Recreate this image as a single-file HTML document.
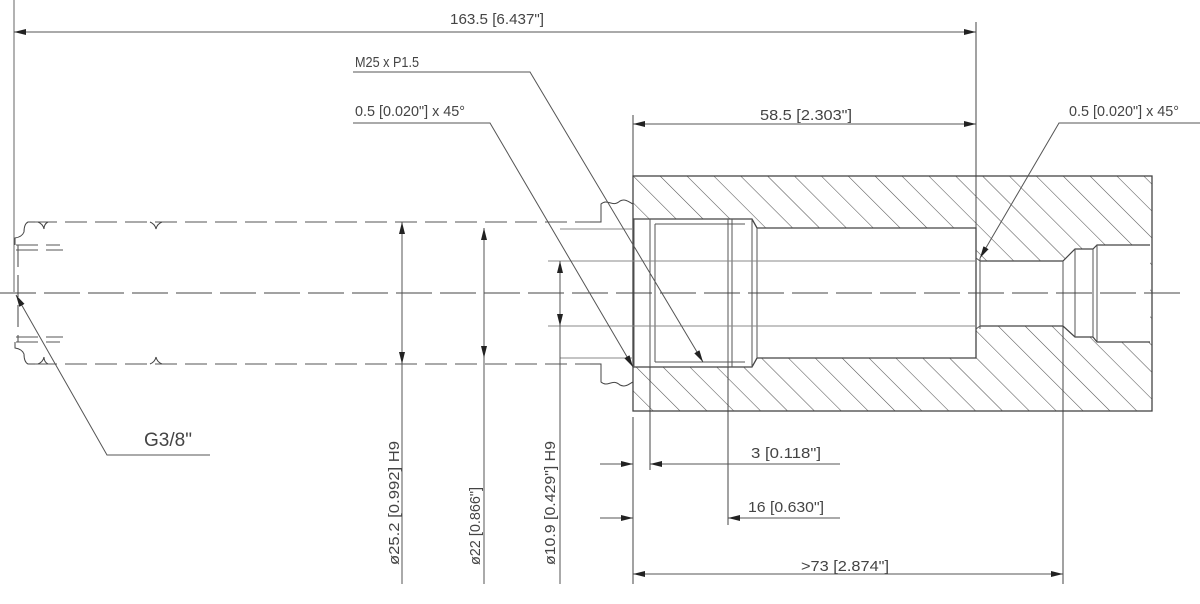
<!DOCTYPE html>
<html><head><meta charset="utf-8"><style>
html,body{margin:0;padding:0;background:#fff;}
svg{display:block;}
text{font-family:"Liberation Sans",sans-serif;fill:#444;font-size:15px;}
</style></head><body>
<svg width="1200" height="604" viewBox="0 0 1200 604" xmlns="http://www.w3.org/2000/svg">
<defs>
<pattern id="h" patternUnits="userSpaceOnUse" width="19" height="19" patternTransform="rotate(-45)">
<line x1="0" y1="0" x2="0" y2="19" stroke="#555" stroke-width="1.1"/>
</pattern>
<marker id="a" viewBox="0 0 12 6" refX="12" refY="3" markerWidth="12" markerHeight="6" markerUnits="userSpaceOnUse" orient="auto-start-reverse">
<path d="M0,0 L12,3 L0,6 Z" fill="#222"/>
</marker>
</defs>
<g fill="none" stroke="#555" stroke-width="1">
<rect x="633" y="176" width="519" height="235" fill="url(#h)" stroke="none"/>
<path d="M633,219 L752,219 L757,228 L976,228 L976,258 L980,261 L1063,261 L1075,249 L1093,249 L1097,245 L1150,245 L1150,342 L1097,342 L1093,337 L1075,337 L1063,326 L980,326 L976,329 L976,358 L757,358 L752,367 L633,367 Z" fill="#fff" stroke="none"/>
<rect x="633" y="176" width="519" height="235" stroke="#444" stroke-width="1.3"/>
<path d="M633,219 L752,219 L757,228 L976,228 L976,358 L757,358 L752,367 L633,367" stroke="#444" stroke-width="1.3"/>
<line x1="634" y1="219" x2="634" y2="367"/>
<line x1="650" y1="219" x2="650" y2="367"/>
<line x1="655" y1="224" x2="655" y2="362"/>
<line x1="655" y1="224" x2="745" y2="224"/>
<line x1="655" y1="362" x2="745" y2="362"/>
<line x1="728" y1="219" x2="728" y2="367"/>
<line x1="732" y1="219" x2="732" y2="367"/>
<line x1="752" y1="219" x2="752" y2="367"/>
<line x1="757" y1="228" x2="757" y2="358"/>
<path d="M980,261 L1063,261 L1075,249 L1093,249 L1097,245 L1150,245 M980,326 L1063,326 L1075,337 L1093,337 L1097,342 L1150,342" stroke="#444" stroke-width="1.2"/>
<line x1="980" y1="258" x2="980" y2="329"/>
<line x1="976" y1="258" x2="980" y2="261"/>
<line x1="976" y1="329" x2="980" y2="326"/>
<line x1="1063" y1="261" x2="1063" y2="326"/>
<line x1="1075" y1="249" x2="1075" y2="337"/>
<line x1="1093" y1="249" x2="1093" y2="337"/>
<line x1="1097" y1="245" x2="1097" y2="342"/>
<line x1="548" y1="261" x2="976" y2="261" stroke="#888"/>
<line x1="548" y1="326" x2="976" y2="326" stroke="#888"/>
<line x1="560" y1="229" x2="633" y2="229" stroke="#888"/>
<line x1="560" y1="358" x2="633" y2="358" stroke="#888"/>
<path d="M590,222 L601,222 L601,204 C608,198 612,208 620,201 C626,198 630,203 633,204" stroke="#444"/>
<path d="M590,364 L601,364 L601,382 C608,388 612,378 620,385 C626,388 630,383 633,382" stroke="#444"/>
<g stroke-dasharray="22,8" stroke="#555" stroke-width="1.1">
<line x1="35" y1="222" x2="590" y2="222"/>
<line x1="35" y1="364" x2="590" y2="364"/>
<line x1="18" y1="245" x2="18" y2="342"/>
<line x1="16" y1="245" x2="60" y2="245"/>
<line x1="16" y1="250" x2="63" y2="250"/>
<line x1="16" y1="337" x2="63" y2="337"/>
<line x1="16" y1="342" x2="60" y2="342"/>
</g>
<path d="M35,222 L28,222 Q24,224 24,232 Q22,237 15,238 L15,245 M35,364 L28,364 Q24,362 24,354 Q22,349 15,348 L15,342" stroke="#444"/>
<path d="M38,222 Q43,224 44,229 M48,222 Q44,224 44,229 M150,222 Q155,224 156,229 M162,222 Q157,224 156,229" stroke="#444"/>
<path d="M38,364 Q43,362 44,357 M48,364 Q44,362 44,357 M150,364 Q155,362 156,357 M162,364 Q157,362 156,357" stroke="#444"/>
<line x1="0" y1="293" x2="1180" y2="293" stroke-dasharray="36,8" stroke="#444"/>
<line x1="14" y1="0" x2="14" y2="292" stroke="#666"/>
<line x1="976" y1="22" x2="976" y2="228" stroke="#444"/>
<line x1="633" y1="115" x2="633" y2="176" stroke="#444"/>
<line x1="633" y1="417" x2="633" y2="584" stroke="#444"/>
<line x1="650" y1="367" x2="650" y2="470" stroke="#444"/>
<line x1="728" y1="367" x2="728" y2="525" stroke="#444"/>
<line x1="1063" y1="326" x2="1063" y2="584" stroke="#444"/>
<line x1="14" y1="32" x2="976" y2="32" marker-start="url(#a)" marker-end="url(#a)"/>
<line x1="633" y1="124" x2="976" y2="124" marker-start="url(#a)" marker-end="url(#a)"/>
<line x1="402" y1="222" x2="402" y2="364" marker-start="url(#a)" marker-end="url(#a)"/>
<line x1="402" y1="364" x2="402" y2="584"/>
<line x1="484" y1="228" x2="484" y2="358" marker-start="url(#a)" marker-end="url(#a)"/>
<line x1="484" y1="358" x2="484" y2="584"/>
<line x1="560" y1="261" x2="560" y2="326" marker-start="url(#a)" marker-end="url(#a)"/>
<line x1="560" y1="326" x2="560" y2="584"/>
<line x1="600" y1="464" x2="633" y2="464" marker-end="url(#a)"/>
<line x1="840" y1="464" x2="650" y2="464" marker-end="url(#a)"/>
<line x1="600" y1="518" x2="633" y2="518" marker-end="url(#a)"/>
<line x1="840" y1="518" x2="728" y2="518" marker-end="url(#a)"/>
<line x1="633" y1="574" x2="1063" y2="574" marker-start="url(#a)" marker-end="url(#a)"/>
<polyline points="353,72 530,72 703,362" marker-end="url(#a)"/>
<polyline points="353,123 490,123 633,367" marker-end="url(#a)"/>
<polyline points="1200,123 1059,123 980,258" marker-end="url(#a)"/>
<polyline points="210,455 107,455 16,295" marker-end="url(#a)"/>
</g>
<g>
<text x="450" y="24" textLength="94" lengthAdjust="spacingAndGlyphs">163.5 [6.437"]</text>
<text x="355" y="67" textLength="64" lengthAdjust="spacingAndGlyphs">M25 x P1.5</text>
<text x="355" y="116" textLength="110" lengthAdjust="spacingAndGlyphs">0.5 [0.020"] x 45°</text>
<text x="1069" y="116" textLength="110" lengthAdjust="spacingAndGlyphs">0.5 [0.020"] x 45°</text>
<text x="760" y="120" textLength="92" lengthAdjust="spacingAndGlyphs">58.5 [2.303"]</text>
<text x="144" y="446" style="font-size:19px" textLength="48" lengthAdjust="spacingAndGlyphs">G3/8"</text>
<text x="751" y="458" textLength="70" lengthAdjust="spacingAndGlyphs">3 [0.118"]</text>
<text x="748" y="512" textLength="76" lengthAdjust="spacingAndGlyphs">16 [0.630"]</text>
<text x="801" y="571" textLength="88" lengthAdjust="spacingAndGlyphs">&gt;73 [2.874"]</text>
<text transform="translate(399,565) rotate(-90)" textLength="124" lengthAdjust="spacingAndGlyphs">ø25.2 [0.992] H9</text>
<text transform="translate(480,565) rotate(-90)" textLength="78" lengthAdjust="spacingAndGlyphs">ø22 [0.866"]</text>
<text transform="translate(555,565) rotate(-90)" textLength="124" lengthAdjust="spacingAndGlyphs">ø10.9 [0.429"] H9</text>
</g>
</svg>
</body></html>
